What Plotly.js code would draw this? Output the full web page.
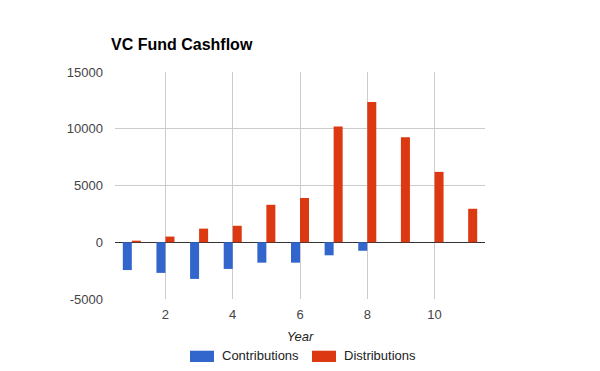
<!DOCTYPE html>
<html>
<head>
<meta charset="utf-8">
<script src="https://cdn.plot.ly/plotly-3.0.1.min.js"></script>
<style>html,body{margin:0;padding:0;background:#fff;}#chart{width:600px;height:371px;}</style>
</head>
<body>
<div id="chart"></div>
<script>
const years = [1, 2, 3, 4, 5, 6, 7, 8, 9, 10, 11];
const contributions = [-2450, -2700, -3230, -2350, -1800, -1800, -1150, -750, 0, 0, 0];
const distributions = [140, 500, 1200, 1450, 3300, 3900, 10200, 12350, 9250, 6200, 2950];
const seriesNames = ['Contributions', 'Distributions'];
const seriesColors = ['#3366cc', '#dc3912'];
const xTicks = [2, 4, 6, 8, 10];
const yTicks = [-5000, 0, 5000, 10000, 15000];

const FONT = 'Arial, "Liberation Sans", sans-serif';

const traces = [
  {type: 'bar', x: years, y: contributions, name: seriesNames[0], marker: {color: seriesColors[0]}, hoverinfo: 'x+y'},
  {type: 'bar', x: years, y: distributions, name: seriesNames[1], marker: {color: seriesColors[1]}, hoverinfo: 'x+y'}
];

// custom legend (swatches + labels) positioned in paper coordinates
const legShapes = [
  {type: 'rect', xref: 'paper', yref: 'paper', x0: 0.2027, x1: 0.2676, y0: -0.2775, y1: -0.2278, fillcolor: seriesColors[0], line: {width: 0}},
  {type: 'rect', xref: 'paper', yref: 'paper', x0: 0.5324, x1: 0.5973, y0: -0.2775, y1: -0.2278, fillcolor: seriesColors[1], line: {width: 0}}
];
const legAnn = [
  {xref: 'paper', yref: 'paper', x: 0.2838, y: -0.2510, xanchor: 'left', yanchor: 'middle', text: seriesNames[0], showarrow: false, font: {family: FONT, size: 13, color: '#222'}},
  {xref: 'paper', yref: 'paper', x: 0.6127, y: -0.2510, xanchor: 'left', yanchor: 'middle', text: seriesNames[1], showarrow: false, font: {family: FONT, size: 13, color: '#222'}}
];

const layout = {
  width: 600, height: 371,
  margin: {l: 115, r: 115, t: 72, b: 72, pad: 0},
  paper_bgcolor: '#fff', plot_bgcolor: '#fff',
  font: {family: FONT, size: 13, color: '#444'},
  title: {text: '<b>VC Fund Cashflow</b>', x: 111/600, xref: 'container', xanchor: 'left', y: 1 - 44/371, yref: 'container', yanchor: 'middle', font: {family: FONT, size: 16, color: '#000'}},
  showlegend: false,
  barmode: 'group', bargap: 0.464, bargroupgap: 0,
  xaxis: {
    range: [0.5, 11.5], tickvals: xTicks, ticktext: xTicks.map(String),
    showgrid: true, gridcolor: '#cccccc', gridwidth: 1, zeroline: false, showline: false,
    ticks: '', ticklabelstandoff: 6, automargin: false,
    tickfont: {family: FONT, size: 13, color: '#444'},
    title: {text: 'Year', standoff: 10, font: {family: FONT, size: 13, color: '#222', style: 'italic'}}
  },
  yaxis: {
    range: [-5000, 15000], tickvals: yTicks, ticktext: yTicks.map(String),
    showgrid: true, gridcolor: '#cccccc', gridwidth: 1,
    zeroline: true, zerolinecolor: '#333333', zerolinewidth: 1.3, showline: false,
    ticks: '', ticklabelstandoff: 11, automargin: false,
    tickfont: {family: FONT, size: 13, color: '#444'}
  },
  shapes: legShapes,
  annotations: legAnn
};

Plotly.newPlot('chart', traces, layout, {displayModeBar: false, staticPlot: true});
</script>
</body>
</html>
